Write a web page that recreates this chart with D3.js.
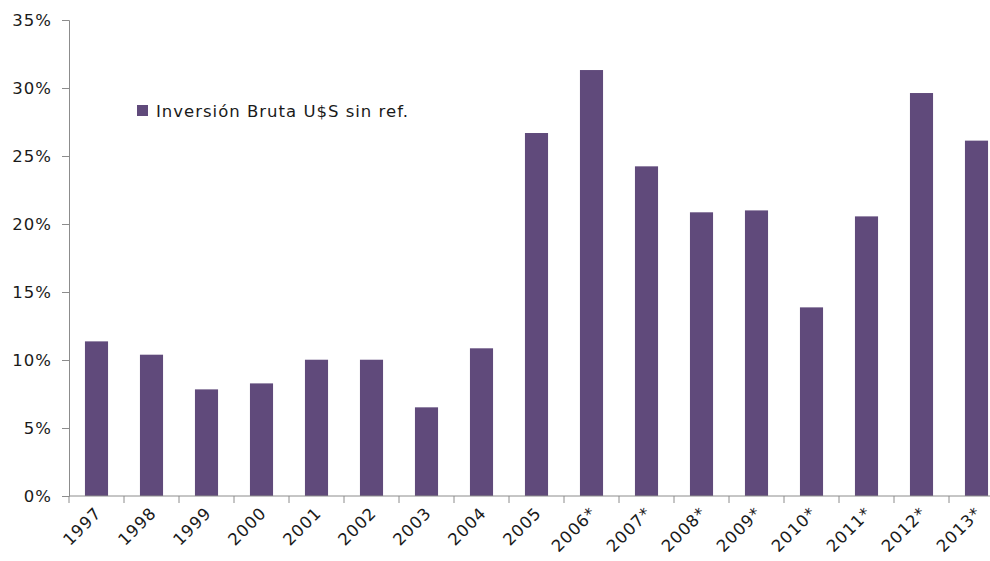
<!DOCTYPE html>
<meta charset="utf-8">
<style>
  body { margin: 0; background: #fff; }
  .axis text { font-family: "DejaVu Sans", sans-serif; font-size: 16.5px; letter-spacing: 1px; fill: #1a1a1a; }
  .axis path, .axis line { stroke: #8c8c8c; }
  .legend text { font-family: "DejaVu Sans", sans-serif; font-size: 16.5px; letter-spacing: 1px; fill: #1a1a1a; }
</style>
<svg width="990" height="561"></svg>
<script src="https://d3js.org/d3.v7.min.js"></script>
<script>
// Data
var years = ["1997", "1998", "1999", "2000", "2001", "2002", "2003", "2004", "2005",
             "2006*", "2007*", "2008*", "2009*", "2010*", "2011*", "2012*", "2013*"];
var values = [11.37, 10.39, 7.84, 8.28, 10.02, 10.02, 6.52, 10.86, 26.69,
              31.32, 24.24, 20.86, 21.0, 13.87, 20.56, 29.63, 26.13];
var yTicks = [0, 5, 10, 15, 20, 25, 30, 35];
var seriesName = "Inversión Bruta U$S sin ref.";

var svg = d3.select("svg");

// Scales (the chart is cropped on the right, last bar runs past the edge)
var x = d3.scaleBand()
    .domain(years)
    .range([69, 1004])
    .paddingInner(0.58)
    .paddingOuter(0.29);

var y = d3.scaleLinear()
    .domain([0, 35])
    .range([496, 20]);

// Bars
svg.append("g")
  .selectAll("rect")
  .data(values)
  .enter().append("rect")
    .attr("x", function(d, i) { return x(years[i]); })
    .attr("y", function(d) { return y(d); })
    .attr("width", x.bandwidth())
    .attr("height", function(d) { return y(0) - y(d); })
    .attr("fill", "#604a7b");

// Y axis
var yAxis = svg.append("g")
    .attr("class", "axis")
    .attr("transform", "translate(69,0)")
    .call(d3.axisLeft(y)
      .tickValues(yTicks)
      .tickSize(7)
      .tickPadding(10)
      .tickFormat(function(d) { return d + "%"; }));

// X axis: ticks sit on the band edges
var xAxis = svg.append("g")
    .attr("class", "axis")
    .attr("transform", "translate(0,496)");
xAxis.append("line")
    .attr("x1", 69).attr("x2", 990)
    .attr("y1", 0).attr("y2", 0);
xAxis.selectAll(".edge")
  .data(years)
  .enter().append("line")
    .attr("class", "edge")
    .attr("x1", function(d) { return x(d) - x.step() * 0.29; })
    .attr("x2", function(d) { return x(d) - x.step() * 0.29; })
    .attr("y1", 0).attr("y2", 7);
xAxis.selectAll(".lbl")
  .data(years)
  .enter().append("text")
    .attr("class", "lbl")
    .attr("text-anchor", "end")
    .attr("transform", function(d) {
      return "translate(" + (x(d) + x.bandwidth() / 2 + 6) + ",18) rotate(-45)";
    })
    .text(function(d) { return d; });

// Legend
var legend = svg.append("g")
    .attr("class", "legend")
    .attr("transform", "translate(137,105)");
legend.append("rect")
    .attr("width", 11).attr("height", 11)
    .attr("fill", "#604a7b");
legend.append("text")
    .attr("x", 19).attr("y", 12)
    .text(seriesName);
</script>
